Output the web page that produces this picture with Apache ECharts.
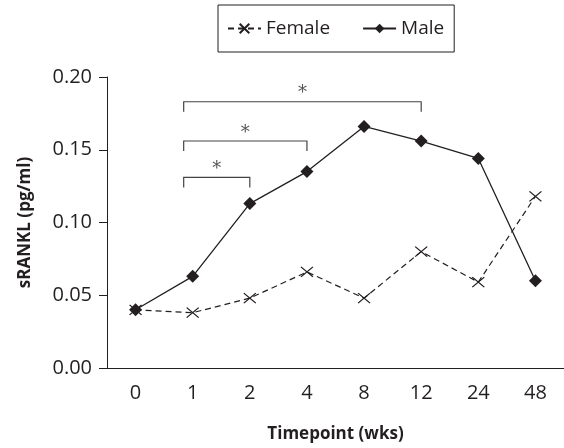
<!DOCTYPE html>
<html>
<head>
<meta charset="utf-8">
<title>sRANKL</title>
<script src="https://cdn.jsdelivr.net/npm/echarts@6/dist/echarts.min.js"></script>
<style>
  html, body { margin: 0; padding: 0; background: #fff; }
  #chart { width: 564px; height: 448px; }
</style>
</head>
<body>
<div id="chart"></div>
<script>
// 数据
var timepoints = ['0', '1', '2', '4', '8', '12', '24', '48'];
var female = [0.040, 0.038, 0.048, 0.066, 0.048, 0.080, 0.059, 0.118];
var male = [0.040, 0.063, 0.113, 0.135, 0.166, 0.156, 0.144, 0.060];
// significance brackets: from, to, height
var bracketFrom = ['1', '1', '1'];
var bracketTo = ['2', '4', '12'];
var bracketHeight = [0.131, 0.156, 0.183];

var ink = '#231f20';
var font = '"Open Sans", sans-serif';

var bracketData = bracketFrom.map(function (f, i) {
    return [timepoints.indexOf(f), timepoints.indexOf(bracketTo[i]), bracketHeight[i]];
});

var myChart = echarts.init(document.getElementById('chart'));
myChart.setOption({
    animation: false,
    legend: {
        left: 218,
        top: 5,
        padding: [14, 10, 14, 9],
        borderColor: ink,
        borderWidth: 1,
        itemGap: 32,
        itemWidth: 33,
        itemHeight: 12,
        textStyle: { fontFamily: font, fontSize: 19, color: ink },
        data: ['Female', 'Male']
    },
    grid: { left: 107, right: -5, top: 77, bottom: 80 },
    xAxis: {
        type: 'category',
        data: timepoints,
        name: 'Timepoint (wks)',
        nameLocation: 'middle',
        nameGap: 58,
        nameTextStyle: { fontFamily: font, fontSize: 17, fontWeight: 'bold', color: ink },
        axisLine: { lineStyle: { color: ink, width: 1 } },
        axisTick: { length: 8, lineStyle: { color: ink } },
        axisLabel: { fontFamily: font, fontSize: 20, color: ink, margin: 15 },
        splitLine: { show: false }
    },
    yAxis: {
        type: 'value',
        min: 0,
        max: 0.2,
        interval: 0.05,
        name: 'sRANKL (pg/ml)',
        nameLocation: 'middle',
        nameGap: 73,
        nameTextStyle: { fontFamily: font, fontSize: 17, fontWeight: 'bold', color: ink },
        axisLine: { show: true, lineStyle: { color: ink, width: 1 } },
        axisTick: { show: true, length: 8, lineStyle: { color: ink } },
        axisLabel: {
            fontFamily: font, fontSize: 20, color: ink, margin: 15,
            formatter: function (v) { return v.toFixed(2); }
        },
        splitLine: { show: false }
    },
    series: [
        {
            name: 'Female',
            type: 'line',
            data: female,
            symbol: 'path://M0,0 L10,10 M10,0 L0,10',
            symbolSize: [12, 10],
            lineStyle: { color: ink, width: 1.2, type: [6, 4] },
            itemStyle: { color: 'transparent', borderColor: ink, borderWidth: 1.2 },
            z: 2
        },
        {
            name: 'Male',
            type: 'line',
            data: male,
            symbol: 'diamond',
            symbolSize: 13,
            lineStyle: { color: ink, width: 1.3 },
            itemStyle: { color: ink },
            z: 3
        },
        {
            type: 'custom',
            data: bracketData,
            encode: { x: [0, 1], y: 2 },
            silent: true,
            renderItem: function (params, api) {
                var p1 = api.coord([api.value(0), api.value(2)]);
                var p2 = api.coord([api.value(1), api.value(2)]);
                var x1 = p1[0] - 9, x2 = p2[0], y = p1[1];
                return {
                    type: 'group',
                    children: [
                        {
                            type: 'polyline',
                            shape: { points: [[x1, y + 10], [x1, y], [x2, y], [x2, y + 10]] },
                            style: { stroke: '#444', lineWidth: 1.2, fill: null }
                        },
                        {
                            type: 'text',
                            style: {
                                text: '*', x: (x1 + x2) / 2, y: y - 8,
                                font: '18px "DejaVu Serif", serif',
                                fill: '#555', align: 'center', verticalAlign: 'middle'
                            }
                        }
                    ]
                };
            }
        }
    ]
});
</script>
</body>
</html>
